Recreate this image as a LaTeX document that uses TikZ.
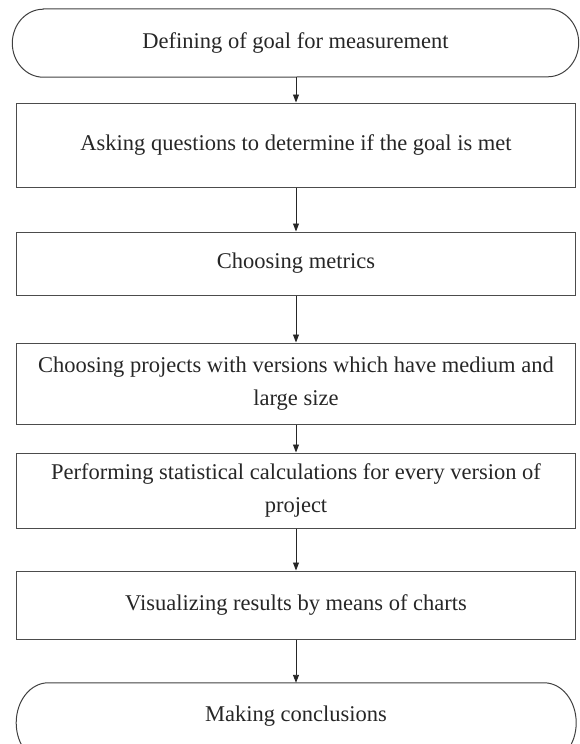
\documentclass[tikz,border=0pt]{standalone}
\usepackage{fontspec}
\setmainfont{Liberation Serif}
\usetikzlibrary{arrows.meta}
\begin{document}
\begin{tikzpicture}[x=1pt,y=-1pt,
  txt/.style={font=\fontsize{22.5}{33}\selectfont, align=center, text=black!85},
  box/.style={txt, draw=black!70, line width=1pt, rectangle, minimum width=559pt, inner sep=0pt},
  termtext/.style={txt, rectangle, inner sep=0pt},
  termline/.style={draw=black!75, line width=1pt},
  arr/.style={-{Triangle[length=8pt,width=6pt]}, line width=0.9pt, draw=black!85, fill=black!85}]
\useasboundingbox (0,0) rectangle (579,744);
\clip (0,0) rectangle (579,744);
% nodes
\node[termtext, minimum width=566pt, minimum height=68pt] (t1) at (295.5,43) {Defining of goal for measurement};
\node[box, minimum height=84pt] (b2) at (296,145) {Asking questions to determine if the goal is met};
\node[box, minimum height=63pt] (b3) at (296,263.5) {Choosing metrics};
\node[box, minimum height=81pt] (b4) at (296,383.5) {Choosing projects with versions which have medium and\\large size};
\node[box, minimum height=75pt] (b5) at (296,490.5) {Performing statistical calculations for every version of\\project};
\node[box, minimum height=68pt] (b6) at (296,605) {Visualizing results by means of charts};
\node[termtext, minimum width=560pt, minimum height=66pt] (t2) at (296,716) {Making conclusions};
% terminal outlines
\draw[termline] ([xshift=31pt]t1.north west) -- ([xshift=-31pt]t1.north east)
  arc[start angle=-90,end angle=90,x radius=31,y radius=34]
  -- ([xshift=31pt]t1.south west)
  arc[start angle=90,end angle=270,x radius=31,y radius=34] -- cycle;
\draw[termline] ([xshift=32pt]t2.north west) -- ([xshift=-32pt]t2.north east)
  arc[start angle=-90,end angle=90,x radius=32,y radius=40]
  -- ++(-496,0)
  arc[start angle=90,end angle=270,x radius=32,y radius=40] -- cycle;
% connectors
\draw[arr] (b2.north |- t1.south) -- (b2.north);
\draw[arr] (b2.south) -- (b3.north);
\draw[arr] (b3.south) -- (b4.north);
\draw[arr] (b4.south) -- (b5.north);
\draw[arr] (b5.south) -- (b6.north);
\draw[arr] (b6.south) -- (b6.south |- t2.north);
\end{tikzpicture}
\end{document}
